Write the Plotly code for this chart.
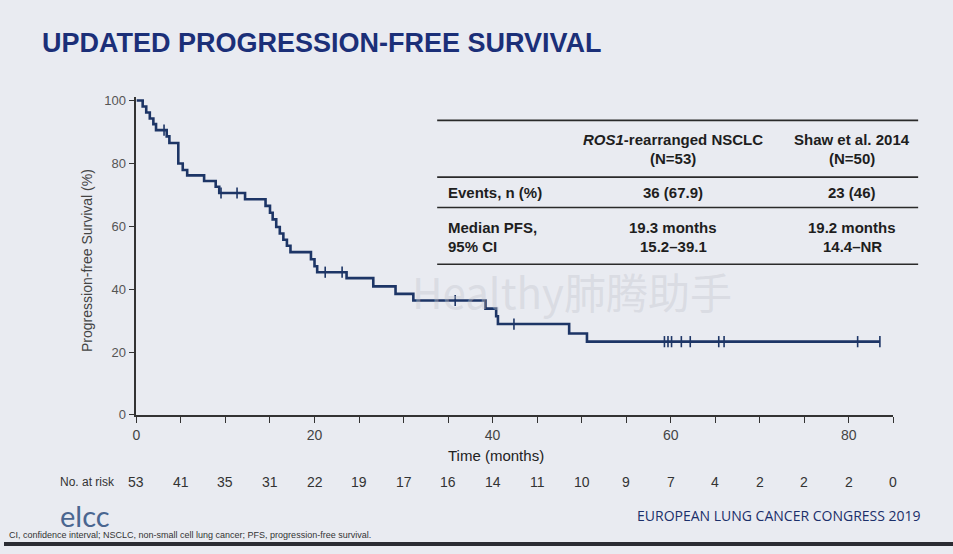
import plotly.graph_objects as go

W, H = 953, 554

# ---------------- data ----------------
step_time = [0, 0.7, 1.1, 1.5, 1.9, 2.2, 3.4, 3.7, 4.7, 5.2, 5.7, 7.6, 8.9, 9.3, 12.2,
             14.5, 15.0, 15.3, 15.7, 16.1, 16.5, 16.9, 17.3, 19.6, 20.0, 20.3, 23.6,
             26.6, 29.1, 31.1, 39.2, 40.4, 40.6, 48.6, 50.6, 83.5]
step_surv = [100, 98.1, 96.2, 94.3, 92.5, 90.6, 88.6, 86.5, 80.0, 77.9, 76.2, 74.4, 72.6, 70.6, 68.6,
             66.5, 64.3, 62.2, 59.8, 57.7, 55.7, 53.8, 51.8, 49.5, 47.3, 45.4, 43.5,
             40.9, 38.5, 36.4, 33.8, 31.4, 28.9, 25.9, 23.3, 23.3]

censor_time = [3.1, 9.5, 11.3, 21.2, 23.1, 35.8, 42.4, 59.3, 59.7, 60.1, 61.2, 62.2, 65.4, 66.0, 81.0, 83.5]
censor_surv = [90.6, 70.6, 70.6, 45.4, 45.4, 36.4, 28.9, 23.3, 23.3, 23.3, 23.3, 23.3, 23.3, 23.3, 23.3, 23.3]

risk_time = [0, 5, 10, 15, 20, 25, 30, 35, 40, 45, 50, 55, 60, 65, 70, 75, 80, 85]
risk_n = [53, 41, 35, 31, 22, 19, 17, 16, 14, 11, 10, 9, 7, 4, 2, 2, 2, 0]

x_ticks = [0, 5, 10, 15, 20, 25, 30, 35, 40, 45, 50, 55, 60, 65, 70, 75, 80, 85]
x_ticklabels = ["0", "", "", "", "20", "", "", "", "40", "", "", "", "60", "", "", "", "80", ""]
y_ticks = [0, 20, 40, 60, 80, 100]

table_cols = [["<i>ROS1</i>-rearranged NSCLC", "(N=53)"], ["Shaw et al. 2014", "(N=50)"]]
table_rows = [["Events, n (%)"], ["Median PFS,", "95% CI"]]
table_vals = [[["36 (67.9)"], ["23 (46)"]], [["19.3 months", "15.2–39.1"], ["19.2 months", "14.4–NR"]]]

# ---------------- helpers ----------------
def px(x):
    return x / W

def py(y):
    return 1 - y / H

NAVY = "#1d3566"
FONT = "Liberation Sans, Arial, sans-serif"

fig = go.Figure()
fig.add_trace(go.Scatter(x=step_time, y=step_surv, mode="lines", line_shape="hv",
                         line=dict(color=NAVY, width=2.6), hoverinfo="skip", showlegend=False))
fig.add_trace(go.Scatter(x=censor_time, y=censor_surv, mode="markers",
                         marker=dict(symbol="line-ns", size=8, line=dict(color=NAVY, width=1.6)),
                         hoverinfo="skip", showlegend=False, cliponaxis=False))

ann = []
shapes = []

def text(x, y, s, font, xanchor="center", yanchor="middle", xref="paper", **kw):
    ann.append(dict(x=x, y=y, xref=xref, yref="paper", xanchor=xanchor, yanchor=yanchor,
                    showarrow=False, text=s, font=font, **kw))

# watermark
text(px(570), py(293), "Healthy肺腾助手",
     dict(family="Noto Sans CJK SC, DejaVu Sans", size=42, color="rgba(195,197,205,0.40)"))

# title
text(px(36), py(40), "<b>UPDATED PROGRESSION-FREE SURVIVAL</b>",
     dict(family="Liberation Sans Narrow, Arial Narrow, Liberation Sans, sans-serif", size=27, color="#1b2f78"),
     xanchor="left")

# axis titles
text(px(84), py(262), "Progression-free Survival (%)", dict(family=FONT, size=14, color="#444"), textangle=-90)
text(px(494), py(461), "Time (months)", dict(family=FONT, size=15, color="#222"))

# number at risk
text(px(113), py(489), "No. at risk", dict(family=FONT, size=12, color="#333"), xanchor="right")
for t, n in zip(risk_time, risk_n):
    text(t, py(489), str(n), dict(family=FONT, size=14, color="#333"), xref="x")

# table
TX0, TX1 = 435, 918
for yl in [119, 177, 208, 266]:
    shapes.append(dict(type="line", xref="paper", yref="paper", x0=px(TX0), x1=px(TX1),
                       y0=py(yl), y1=py(yl), line=dict(color="#2a2a2a", width=1.6)))
col_x = [672, 852]
tfont = dict(family=FONT, size=15, color="#1e1e1e")
line_gap = 20
for cx, lines in zip(col_x, table_cols):
    for i, s in enumerate(lines):
        text(px(cx), py(138 + i * line_gap), "<b>" + s + "</b>", tfont)
row_y = [193, 228]
for ry, rl, vals in zip(row_y, table_rows, table_vals):
    for i, s in enumerate(rl):
        text(px(444), py(ry + i * line_gap), "<b>" + s + "</b>", tfont, xanchor="left")
    for cx, v in zip(col_x, vals):
        for i, s in enumerate(v):
            text(px(cx), py(ry + i * line_gap), "<b>" + s + "</b>", tfont)

# footer
text(px(54), py(523), "elcc", dict(family="Lato, Liberation Sans", size=29, color="#4a6690"), xanchor="left")
text(px(923), py(523), "EUROPEAN LUNG CANCER CONGRESS 2019",
     dict(family="Liberation Sans Narrow, Open Sans, sans-serif", size=14, color="#1b2f6a"), xanchor="right")
text(px(3), py(543), "CI, confidence interval; NSCLC, non-small cell lung cancer; PFS, progression-free survival.",
     dict(family="Liberation Sans Narrow, Liberation Sans", size=9, color="#333"), xanchor="left")
shapes.append(dict(type="rect", xref="paper", yref="paper", x0=0, x1=1, y0=0, y1=py(550),
                   fillcolor="#2b2c33", line=dict(width=0), layer="above"))

fig.update_layout(
    width=W, height=H, margin=dict(l=0, r=0, t=0, b=0),
    paper_bgcolor="#e9ebf1", plot_bgcolor="#e9ebf1",
    showlegend=False, annotations=ann, shapes=shapes,
    xaxis=dict(domain=[px(133), px(893)], range=[0, 85], tickvals=x_ticks, ticktext=x_ticklabels,
               showgrid=False, zeroline=False, showline=True, linecolor="#333", linewidth=1.6,
               ticks="outside", ticklen=6, tickwidth=1.4, tickcolor="#333",
               tickfont=dict(family=FONT, size=14, color="#444")),
    yaxis=dict(domain=[py(420), py(95.5)], range=[0, 101], tickvals=y_ticks,
               showgrid=False, zeroline=False, showline=True, linecolor="#333", linewidth=1.6,
               ticks="outside", ticklen=6, tickwidth=1.4, tickcolor="#333",
               tickfont=dict(family=FONT, size=13, color="#555")),
)

fig.write_html("out.html", config={"displayModeBar": False},
               post_script="document.body.style.margin='0';document.body.style.overflow='hidden';")
